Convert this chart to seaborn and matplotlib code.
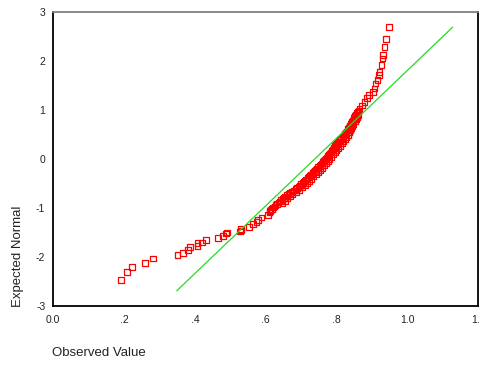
import matplotlib
matplotlib.use("Agg")
import matplotlib.pyplot as plt
import seaborn as sns

low_x = [0.192, 0.209, 0.222, 0.260, 0.282, 0.351, 0.366, 0.381, 0.387, 0.408,
         0.408, 0.420, 0.432, 0.466, 0.480, 0.488, 0.490, 0.528, 0.530, 0.530,
         0.552, 0.564, 0.574, 0.578, 0.588, 0.607, 0.610, 0.612]
low_y = [-2.47, -2.31, -2.20, -2.12, -2.03, -1.96, -1.92, -1.86, -1.80, -1.77,
         -1.71, -1.70, -1.65, -1.61, -1.57, -1.52, -1.50, -1.48, -1.43, -1.46,
         -1.39, -1.33, -1.28, -1.25, -1.19, -1.14, -1.08, -1.06]

mid_x = [0.614, 0.618, 0.621, 0.625, 0.628, 0.632, 0.636, 0.639, 0.643, 0.647,
         0.651, 0.655, 0.659, 0.664, 0.669, 0.674, 0.679, 0.684, 0.688, 0.693,
         0.697, 0.700, 0.704, 0.707, 0.711, 0.714, 0.718, 0.721, 0.725, 0.728,
         0.732, 0.735, 0.739, 0.742, 0.745, 0.748, 0.751, 0.754, 0.757, 0.760,
         0.763, 0.766, 0.768, 0.771, 0.774, 0.777, 0.780, 0.783, 0.785, 0.788,
         0.791, 0.793, 0.795, 0.798, 0.801, 0.804, 0.807, 0.810, 0.813, 0.816,
         0.819, 0.822, 0.824, 0.826, 0.828, 0.830, 0.832, 0.834, 0.836, 0.838,
         0.840, 0.842, 0.844, 0.845, 0.847, 0.849, 0.850, 0.852, 0.854, 0.856,
         0.859, 0.862]
mid_y = [-1.040, -1.015, -0.990, -0.965, -0.940, -0.915, -0.890, -0.865, -0.840, -0.815,
         -0.790, -0.765, -0.740, -0.715, -0.690, -0.665, -0.640, -0.615, -0.590, -0.565,
         -0.540, -0.515, -0.490, -0.465, -0.440, -0.415, -0.390, -0.365, -0.340, -0.315,
         -0.290, -0.265, -0.240, -0.215, -0.190, -0.165, -0.140, -0.115, -0.090, -0.065,
         -0.040, -0.015, 0.010, 0.035, 0.060, 0.085, 0.110, 0.135, 0.160, 0.185,
         0.210, 0.235, 0.260, 0.285, 0.310, 0.335, 0.360, 0.385, 0.410, 0.435,
         0.460, 0.485, 0.510, 0.535, 0.560, 0.585, 0.610, 0.635, 0.660, 0.685,
         0.710, 0.735, 0.760, 0.785, 0.810, 0.835, 0.860, 0.885, 0.910, 0.935,
         0.960, 0.985]

# tied values on the right side of the dense band
tie_x = [0.647, 0.654, 0.661, 0.668, 0.676, 0.685, 0.694, 0.702, 0.710, 0.716,
         0.722, 0.729, 0.735, 0.741, 0.747, 0.754, 0.759, 0.765, 0.770, 0.775,
         0.780, 0.785, 0.790, 0.796, 0.800, 0.805, 0.809, 0.815, 0.819, 0.823,
         0.828, 0.832, 0.835, 0.838, 0.841, 0.844, 0.848, 0.851, 0.855, 0.858,
         0.862]
tie_y = [-0.900, -0.855, -0.810, -0.765, -0.720, -0.675, -0.630, -0.585, -0.540, -0.495,
         -0.450, -0.405, -0.360, -0.315, -0.270, -0.225, -0.180, -0.135, -0.090, -0.045,
         0.000, 0.045, 0.090, 0.135, 0.180, 0.225, 0.270, 0.315, 0.360, 0.405,
         0.450, 0.495, 0.540, 0.585, 0.630, 0.675, 0.720, 0.765, 0.810, 0.855,
         0.900]

high_x = [0.865, 0.871, 0.879, 0.886, 0.891, 0.902, 0.907, 0.909, 0.915, 0.919,
          0.921, 0.926, 0.929, 0.931, 0.935, 0.939, 0.948]
high_y = [1.02, 1.09, 1.16, 1.24, 1.31, 1.37, 1.44, 1.54, 1.61, 1.71,
          1.78, 1.92, 2.05, 2.12, 2.29, 2.45, 2.69]

# reference normal line
line_x = [0.349, 1.127]
line_y = [-2.69, 2.69]

x_ticks = [0.0, 0.2, 0.4, 0.6, 0.8, 1.0, 1.2]
x_tick_labels = ["0.0", ".2", ".4", ".6", ".8", "1.0", "1.2"]
y_ticks = [-3, -2, -1, 0, 1, 2, 3]

obs = low_x + mid_x + tie_x + high_x
exp_norm = low_y + mid_y + tie_y + high_y

sns.set_style("white")
plt.rcParams["font.family"] = ["Liberation Sans", "DejaVu Sans"]
plt.rcParams["axes.unicode_minus"] = False

fig = plt.figure(figsize=(4.81, 3.65), dpi=100)
ax = fig.add_axes([0.1102, 0.1616, 0.8846, 0.8055])

sns.lineplot(x=line_x, y=line_y, ax=ax, color="#22dd22", linewidth=0.9)
sns.scatterplot(x=obs, y=exp_norm, ax=ax, marker="s", s=16,
                facecolor="none", edgecolor="#ff0000", linewidth=0.9)

ax.set_xlim(0, 1.2)
ax.set_ylim(-3, 3)
ax.set_xticks(x_ticks)
ax.set_xticklabels(x_tick_labels)
ax.set_yticks(y_ticks)
ax.tick_params(axis="both", direction="out", length=2.5, width=1.6,
               colors="black", labelsize=7.5, labelcolor="#222222")
ax.tick_params(axis="x", pad=4)
ax.tick_params(axis="y", pad=3)

for side in ["left", "bottom", "right"]:
    ax.spines[side].set_color("black")
    ax.spines[side].set_linewidth(1.3)
ax.spines["top"].set_color("#808080")
ax.spines["top"].set_linewidth(1.3)

fig.text(52 / 481, 1 - 353 / 365, "Observed Value", ha="left", va="center",
         fontsize=9.5, color="#222222")
fig.text(18 / 481, 1 - 307 / 365, "Expected Normal", ha="center", va="bottom",
         rotation=90, fontsize=9.5, color="#222222")

fig.savefig("out.png", dpi=100)
